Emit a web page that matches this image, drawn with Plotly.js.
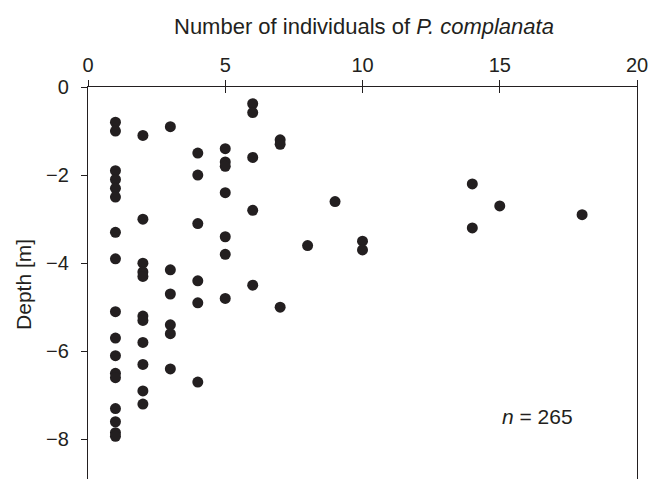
<!DOCTYPE html>
<html>
<head>
<meta charset="utf-8">
<script src="https://cdn.plot.ly/plotly-3.0.1.min.js"></script>
<style>html,body{margin:0;padding:0;background:#fff;}#chart{width:663px;height:479px;}</style>
</head>
<body>
<div id="chart"></div>
<script>
// Number of individuals (x) and depth in metres (y)
const individuals = [
  1,1,1,1,1,1,1,1,1,1,1,1,1,1,1,1,1,
  2,2,2,2,2,2,2,2,2,2,2,
  3,3,3,3,3,3,
  4,4,4,4,4,4,
  5,5,5,5,5,5,5,
  6,6,6,6,6,
  7,7,7,
  8,
  9,
  10,10,
  14,14,
  15,
  18
];
const depth = [
  -0.8,-1.0,-1.9,-2.1,-2.3,-2.5,-3.3,-3.9,-5.1,-5.7,-6.1,-6.5,-6.6,-7.3,-7.6,-7.85,-7.93,
  -1.1,-3.0,-4.0,-4.2,-4.3,-5.2,-5.3,-5.8,-6.3,-6.9,-7.2,
  -0.9,-4.15,-4.7,-5.4,-5.6,-6.4,
  -1.5,-2.0,-3.1,-4.4,-4.9,-6.7,
  -1.4,-1.7,-1.8,-2.4,-3.4,-3.8,-4.8,
  -0.38,-0.58,-1.6,-2.8,-4.5,
  -1.2,-1.3,-5.0,
  -3.6,
  -2.6,
  -3.5,-3.7,
  -2.2,-3.2,
  -2.7,
  -2.9
];
const xTicks = [0,5,10,15,20];
const yTicks = [0,-2,-4,-6,-8];
const yTickText = ["0","\u22122","\u22124","\u22126","\u22128"];
const xTitle = "Number of individuals of <i>P. complanata</i>";
const yTitle = "Depth [m]";
const nLabel = "<i>n</i> = 265";

const ink = "#231f20";
const fam = "Liberation Sans, Arial, sans-serif";
const font = {family: fam, size: 20, color: ink};
const titleFont = {family: fam, size: 22, color: ink};
const sideFont = {family: fam, size: 21, color: ink};

const traces = [{
  x: individuals, y: depth, type: "scatter", mode: "markers",
  marker: {color: ink, size: 11, line: {width: 0}},
  hoverinfo: "skip", showlegend: false
}, {
  x: [], y: [], xaxis: "x2", yaxis: "y", type: "scatter", mode: "markers", showlegend: false
}];

const layout = {
  width: 663, height: 479,
  margin: {l: 88, r: 26, t: 87, b: 0},
  paper_bgcolor: "#fff", plot_bgcolor: "#fff",
  font: font,
  showlegend: false,
  xaxis: {
    range: [0, 20], side: "top", tickvals: xTicks, ticktext: xTicks.map(String),
    ticks: "outside", ticklen: 6, tickwidth: 1, tickcolor: ink,
    showline: true, linecolor: ink, linewidth: 1.2,
    showgrid: false, zeroline: false, ticklabelstandoff: 0,
    tickfont: font, fixedrange: true
  },
  xaxis2: {
    range: [0, 20], overlaying: "x", side: "top", tickvals: xTicks,
    ticks: "inside", ticklen: 6, tickwidth: 1, tickcolor: ink,
    showticklabels: false, showline: false, showgrid: false, zeroline: false
  },
  yaxis: {
    range: [-8.9, 0], tickvals: yTicks, ticktext: yTickText,
    ticks: "outside", ticklen: 6, tickwidth: 1, tickcolor: ink,
    showline: true, mirror: true, linecolor: ink, linewidth: 1.2,
    showgrid: false, zeroline: false, ticklabelstandoff: 8,
    tickfont: font, fixedrange: true
  },
  annotations: [
    {text: xTitle, xref: "paper", yref: "paper", x: 0.502, y: 1, yshift: 61,
     xanchor: "center", yanchor: "middle", showarrow: false, font: titleFont},
    {text: yTitle, xref: "paper", yref: "paper", x: 0, xshift: -64, y: 0.495,
     xanchor: "center", yanchor: "middle", textangle: -90, showarrow: false, font: sideFont},
    {text: nLabel, xref: "x", yref: "y", x: 16.39, y: -7.49,
     xanchor: "center", yanchor: "middle", showarrow: false, font: sideFont}
  ]
};

Plotly.newPlot("chart", traces, layout, {displayModeBar: false, staticPlot: true});
</script>
</body>
</html>
